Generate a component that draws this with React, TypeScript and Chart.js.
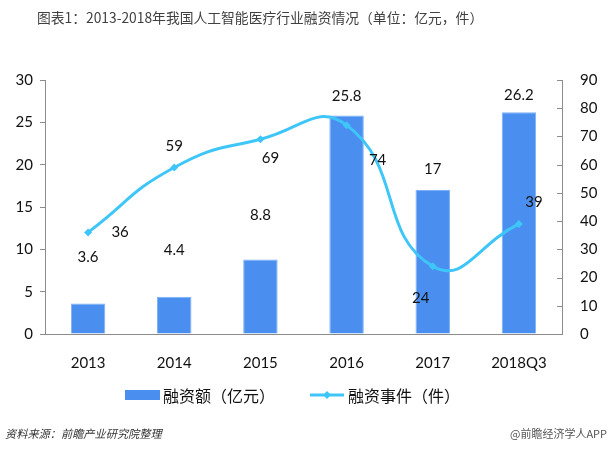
import React, { useEffect, useRef } from 'react';
import { Chart, registerables } from 'chart.js';

Chart.register(...registerables);

// ---- data ----
const categories = ['2013', '2014', '2015', '2016', '2017', '2018Q3'];
const fundingAmount = [3.6, 4.4, 8.8, 25.8, 17, 26.2];
const fundingEvents = [36, 59, 69, 74, 24, 39];
const amountLabels = ['3.6', '4.4', '8.8', '25.8', '17', '26.2'];
const eventLabels = ['36', '59', '69', '74', '24', '39'];

const titleText = '图表1：2013-2018年我国人工智能医疗行业融资情况（单位：亿元，件）';
const barLegend = '融资额（亿元）';
const lineLegend = '融资事件（件）';
const sourceText = '资料来源：前瞻产业研究院整理';
const brandText = '@前瞻经济学人APP';

// ---- styling ----
const BAR_COLOR = '#4a8ff0';
const BAR_EDGE = '#7db0f6';
const LINE_COLOR = '#3fc6f8';
const AXIS_COLOR = '#8c8c8c';
const TEXT_COLOR = '#404040';
const NUM_FONT = 'Lato, "Noto Sans", sans-serif';
const CJK_FONT = '"Noto Sans CJK SC", sans-serif';

// label offsets (px) relative to mark
const barLabelOffsets = [-46, -47, -44, -19, -21, -17];
const lineLabelOffsets: [number, number][] = [
  [32, 0],
  [0, -21],
  [10, 19],
  [31, 35],
  [-12, 32],
  [15, -22],
];

const overlay = {
  id: 'overlay',
  afterDatasetsDraw(chart: any) {
    const ctx = chart.ctx as CanvasRenderingContext2D;
    const area = chart.chartArea;
    ctx.save();
    // right axis inward ticks
    const y1 = chart.scales.y1;
    ctx.strokeStyle = AXIS_COLOR;
    ctx.lineWidth = 1;
    y1.ticks.forEach((t: any) => {
      const y = Math.round(y1.getPixelForValue(t.value)) + 0.5;
      ctx.beginPath();
      ctx.moveTo(area.right - 5, y);
      ctx.lineTo(area.right, y);
      ctx.stroke();
    });

    ctx.fillStyle = '#111';
    ctx.font = `15px ${NUM_FONT}`;
    ctx.textAlign = 'center';
    ctx.textBaseline = 'middle';
    const barMeta = chart.getDatasetMeta(1);
    barMeta.data.forEach((el: any, i: number) => {
      ctx.fillText(amountLabels[i], el.x, el.y + barLabelOffsets[i]);
    });
    const lineMeta = chart.getDatasetMeta(0);
    lineMeta.data.forEach((el: any, i: number) => {
      const [dx, dy] = lineLabelOffsets[i];
      ctx.fillText(eventLabels[i], el.x + dx, el.y + dy);
    });

    // title
    ctx.textAlign = 'left';
    ctx.fillStyle = TEXT_COLOR;
    ctx.font = `13.8px ${CJK_FONT}`;
    ctx.fillText(titleText, 37, 18);

    // legend
    ctx.fillStyle = BAR_COLOR;
    ctx.fillRect(125, 390, 35, 10);
    ctx.fillStyle = '#111';
    ctx.font = `16px ${CJK_FONT}`;
    ctx.fillText(barLegend, 163, 396);
    ctx.strokeStyle = LINE_COLOR;
    ctx.lineWidth = 3;
    ctx.beginPath();
    ctx.moveTo(310, 395);
    ctx.lineTo(344, 395);
    ctx.stroke();
    ctx.fillStyle = LINE_COLOR;
    ctx.beginPath();
    ctx.moveTo(327, 391);
    ctx.lineTo(331, 395);
    ctx.lineTo(327, 399);
    ctx.lineTo(323, 395);
    ctx.closePath();
    ctx.fill();
    ctx.fillStyle = '#111';
    ctx.fillText(lineLegend, 348, 396);

    // footer
    ctx.fillStyle = '#333';
    ctx.font = `italic 11.2px ${CJK_FONT}`;
    ctx.fillText(sourceText, 5, 434);
    ctx.fillStyle = '#555';
    ctx.font = `11px ${CJK_FONT}`;
    ctx.textAlign = 'right';
    ctx.fillText(brandText, 607, 434);
    ctx.restore();
  },
};

export default function App() {
  const ref = useRef<HTMLCanvasElement>(null);
  useEffect(() => {
    if (!ref.current) return;
    const chart = new Chart(ref.current, {
      type: 'bar',
      data: {
        labels: categories,
        datasets: [
          {
            type: 'line',
            label: lineLegend,
            data: fundingEvents,
            yAxisID: 'y1',
            borderColor: LINE_COLOR,
            backgroundColor: LINE_COLOR,
            borderWidth: 3,
            tension: 0.5,
            pointStyle: 'rectRot',
            pointRadius: 4,
            pointBackgroundColor: LINE_COLOR,
            pointBorderWidth: 0,
            order: 1,
          } as any,
          {
            type: 'bar',
            label: barLegend,
            data: fundingAmount,
            yAxisID: 'y',
            backgroundColor: BAR_COLOR,
            borderColor: BAR_EDGE,
            borderWidth: { left: 1, right: 1, top: 1, bottom: 0 },
            barPercentage: 0.4,
            categoryPercentage: 1,
            order: 2,
          } as any,
        ],
      },
      plugins: [overlay],
      options: {
        responsive: false,
        animation: false,
        layout: { padding: { top: 80, left: 0, right: 0, bottom: 0 } },
        plugins: { legend: { display: false }, tooltip: { enabled: false }, title: { display: false } },
        scales: {
          x: {
            grid: { display: false },
            border: { display: true, color: AXIS_COLOR },
            ticks: { color: '#111', font: { family: NUM_FONT, size: 15 }, padding: 12 },
            afterFit: (s: any) => { s.height = 119; },
          },
          y: {
            position: 'left',
            min: 0,
            max: 30,
            ticks: { stepSize: 5, color: '#111', font: { family: NUM_FONT, size: 15 }, padding: 7 },
            grid: { display: true, drawOnChartArea: false, drawTicks: true, tickLength: 5, color: AXIS_COLOR },
            border: { display: true, color: AXIS_COLOR },
            afterFit: (s: any) => { s.width = 45; },
          },
          y1: {
            position: 'right',
            min: 0,
            max: 90,
            ticks: { stepSize: 10, color: '#111', font: { family: NUM_FONT, size: 15 }, padding: 10 },
            grid: { display: false },
            border: { display: true, color: AXIS_COLOR },
            afterFit: (s: any) => { s.width = 49; },
          },
        },
      },
    });
    return () => chart.destroy();
  }, []);
  return (
    <div style={{ position: 'absolute', left: 0, top: 0, width: 611, height: 453, background: '#fff' }}>
      <canvas ref={ref} width={611} height={453} />
    </div>
  );
}
